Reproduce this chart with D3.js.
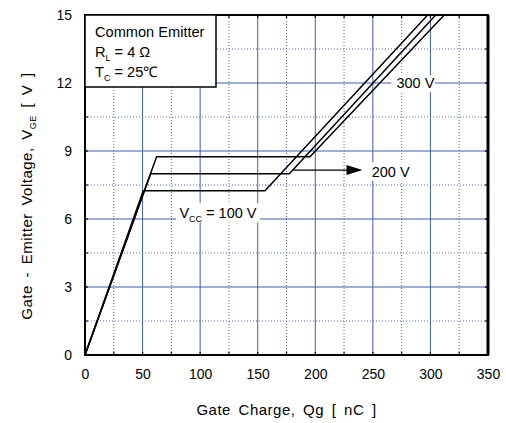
<!DOCTYPE html>
<html><head><meta charset="utf-8">
<script src="https://cdn.jsdelivr.net/npm/d3@7"></script>
<style>
html,body{margin:0;padding:0;background:#fff;}
svg{display:block;font-family:"Liberation Sans",Arial,sans-serif;}
</style></head>
<body><svg id="c" width="506" height="423"></svg>
<script>
// Data (Gate charge nC vs Gate-Emitter voltage V)
const charge100 = [0, 50.6, 156.3, 297.6];
const vge100    = [0, 7.25, 7.25, 15];
const charge200 = [0, 57, 177.5, 304.6];
const vge200    = [0, 8.0, 8.0, 15];
const charge300 = [0, 62.2, 195.4, 312];
const vge300    = [0, 8.75, 8.75, 15];
const xTicks = [0, 50, 100, 150, 200, 250, 300, 350];
const yTicks = [0, 3, 6, 9, 12, 15];
const xMinor = [25, 75, 125, 175, 225, 275, 325];
const yMinor = [1.5, 4.5, 7.5, 10.5, 13.5];

const svg = d3.select("#c");
const L = 85, R = 488, T = 15, B = 355;
const x = d3.scaleLinear().domain([0, 350]).range([L, R]);
const y = d3.scaleLinear().domain([0, 15]).range([B, T]);

const grid = svg.append("g");
// minor dotted
grid.selectAll(".mx").data(xMinor).join("line")
  .attr("x1", d => x(d)).attr("x2", d => x(d)).attr("y1", T).attr("y2", B)
  .attr("stroke", "#4a68c0").attr("stroke-width", 1).attr("stroke-dasharray", "1,2");
grid.selectAll(".my").data(yMinor).join("line")
  .attr("y1", d => y(d)).attr("y2", d => y(d)).attr("x1", L).attr("x2", R)
  .attr("stroke", "#4a68c0").attr("stroke-width", 1).attr("stroke-dasharray", "1,2");
// major solid
grid.selectAll(".Mx").data(xTicks.slice(1, -1)).join("line")
  .attr("x1", d => x(d)).attr("x2", d => x(d)).attr("y1", T).attr("y2", B)
  .attr("stroke", "#3f5cae").attr("stroke-width", 1);
grid.selectAll(".My").data(yTicks.slice(1, -1)).join("line")
  .attr("y1", d => y(d)).attr("y2", d => y(d)).attr("x1", L).attr("x2", R)
  .attr("stroke", "#3f5cae").attr("stroke-width", 1);

// axes with inward ticks
const allX = xTicks.concat(xMinor), allY = yTicks.concat(yMinor);
svg.append("g").attr("transform", `translate(0,${B})`)
  .call(d3.axisBottom(x).tickValues(xTicks).tickSize(0).tickPadding(14).tickFormat(d3.format("d")))
  .call(g => g.select(".domain").remove())
  .call(g => g.selectAll("text").attr("font-size", 14).attr("fill", "#000").attr("font-family", "Liberation Sans, Arial, sans-serif"));
svg.append("g").attr("transform", `translate(${L},0)`)
  .call(d3.axisLeft(y).tickValues(yTicks).tickSize(0).tickPadding(13).tickFormat(d3.format("d")))
  .call(g => g.select(".domain").remove())
  .call(g => g.selectAll("text").attr("font-size", 14).attr("fill", "#000").attr("font-family", "Liberation Sans, Arial, sans-serif"));

const tk = svg.append("g").attr("stroke", "#000").attr("stroke-width", 1.2);
tk.selectAll(".tb").data(allX).join("line").attr("x1", d => x(d)).attr("x2", d => x(d)).attr("y1", B).attr("y2", B - 3);
tk.selectAll(".tt").data(allX).join("line").attr("x1", d => x(d)).attr("x2", d => x(d)).attr("y1", T).attr("y2", T + 3);
tk.selectAll(".tl").data(allY).join("line").attr("y1", d => y(d)).attr("y2", d => y(d)).attr("x1", L).attr("x2", L + 3);
tk.selectAll(".tr").data(allY).join("line").attr("y1", d => y(d)).attr("y2", d => y(d)).attr("x1", R).attr("x2", R - 3);

// label backgrounds
const bg = svg.append("g").attr("fill", "#fff");
bg.append("rect").attr("x", x(79)).attr("y", y(6.7)).attr("width", x(152) - x(79)).attr("height", y(5.85) - y(6.7));
bg.append("rect").attr("x", x(266)).attr("y", y(12.35)).attr("width", x(304) - x(266)).attr("height", y(11.6) - y(12.35));
bg.append("rect").attr("x", x(247)).attr("y", y(8.5)).attr("width", x(282) - x(247)).attr("height", y(7.7) - y(8.5));

// curves
const line = d3.line().x(d => x(d[0])).y(d => y(d[1]));
const series = [[charge100, vge100], [charge200, vge200], [charge300, vge300]];
svg.append("clipPath").attr("id", "pc").append("rect").attr("x", L).attr("y", T - 1).attr("width", R - L).attr("height", B - T + 1);
svg.append("g").attr("clip-path", "url(#pc)").selectAll("path").data(series).join("path")
  .attr("d", s => line(d3.zip(s[0], s[1])))
  .attr("fill", "none").attr("stroke", "#000").attr("stroke-width", 1.5);

// arrow
const arrowX = [181, 241], arrowY = 8.16;
svg.append("line").attr("x1", x(arrowX[0])).attr("x2", x(arrowX[1]) - 12).attr("y1", y(arrowY)).attr("y2", y(arrowY))
  .attr("stroke", "#000").attr("stroke-width", 1.3);
svg.append("path").attr("d", `M${x(arrowX[1])},${y(arrowY)} L${x(arrowX[1]) - 16},${y(arrowY) - 5} L${x(arrowX[1]) - 16},${y(arrowY) + 5} Z`).attr("fill", "#000");

// frame
svg.append("rect").attr("x", L).attr("y", T).attr("width", R - L).attr("height", B - T)
  .attr("fill", "none").attr("stroke", "#000").attr("stroke-width", 2);
svg.append("line").attr("x1", R).attr("x2", R).attr("y1", T).attr("y2", B).attr("stroke", "#000").attr("stroke-width", 3);

// legend box
svg.append("rect").attr("x", L).attr("y", T).attr("width", 131).attr("height", 72)
  .attr("fill", "#fff").attr("stroke", "#000").attr("stroke-width", 1.5);
const lg = svg.append("g").attr("font-size", 14.6).attr("fill", "#000");
lg.append("text").attr("x", 95).attr("y", 37).text("Common Emitter");
const t2 = lg.append("text").attr("x", 95).attr("y", 57);
t2.append("tspan").text("R");
t2.append("tspan").attr("font-size", 9).attr("dy", 4).text("L");
t2.append("tspan").attr("dy", -4).text(" = 4 \u03A9");
const t3 = lg.append("text").attr("x", 95).attr("y", 77);
t3.append("tspan").text("T");
t3.append("tspan").attr("font-size", 9).attr("dy", 4).text("C");
t3.append("tspan").attr("dy", -4).text(" = 25\u2103");

// curve labels
const ann = svg.append("g").attr("font-size", 14.5).attr("fill", "#000");
const a1 = ann.append("text").attr("x", x(82)).attr("y", y(6.25) + 5);
a1.append("tspan").text("V");
a1.append("tspan").attr("font-size", 9).attr("dy", 4).text("CC");
a1.append("tspan").attr("dy", -4).text(" = 100 V");
ann.append("text").attr("x", x(270.5)).attr("y", y(12) + 5).text("300 V");
ann.append("text").attr("x", x(249)).attr("y", y(8.09) + 5).text("200 V");

// axis titles
svg.append("text").attr("x", (L + R) / 2).attr("y", 415).attr("text-anchor", "middle").attr("font-size", 15)
  .attr("letter-spacing", 0.5).attr("word-spacing", 3).text("Gate Charge, Qg [ nC ]");
const yt = svg.append("text").attr("transform", "translate(32,196) rotate(-90)").attr("text-anchor", "middle").attr("font-size", 15)
  .attr("letter-spacing", 0.5).attr("word-spacing", 3);
yt.append("tspan").text("Gate - Emitter Voltage,  V");
yt.append("tspan").attr("font-size", 9).attr("dy", 4).text("GE");
yt.append("tspan").attr("dy", -4).text(" [ V ]");
</script></body></html>
